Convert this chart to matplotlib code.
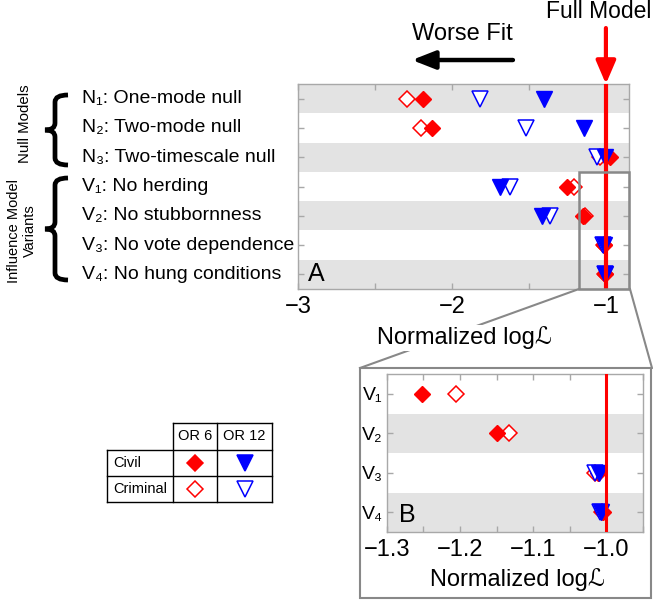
import matplotlib.pyplot as plt
from matplotlib.patches import Rectangle, PathPatch
from matplotlib.path import Path
from matplotlib.lines import Line2D

plt.rcParams['font.family'] = ['Liberation Sans', 'DejaVu Sans']

# model comparison: normalized log-likelihood per model variant
models = ['N₁: One-mode null', 'N₂: Two-mode null', 'N₃: Two-timescale null',
          'V₁: No herding', 'V₂: No stubbornness', 'V₃: No vote dependence',
          'V₄: No hung conditions']
short_names = ['N₁', 'N₂', 'N₃', 'V₁', 'V₂', 'V₃', 'V₄']
civil_or6 = [-2.19, -2.13, -0.975, -1.252, -1.149, -1.012, -1.005]
criminal_or6 = [-2.29, -2.20, -1.04, -1.205, -1.133, -1.015, -1.006]
civil_or12 = [-1.40, -1.143, -1.006, -1.688, -1.418, -1.010, -1.008]
criminal_or12 = [-1.818, -1.52, -1.06, -1.623, -1.36, -1.016, -1.009]
full_model = -1.0

main_ticks = [-3, -2.5, -2, -1.5, -1]
main_ticklabels = ['−3', '', '−2', '', '−1']
zoom_ticks = [-1.3, -1.25, -1.2, -1.15, -1.1, -1.05, -1.0, -0.95]
zoom_ticklabels = ['−1.3', '', '−1.2', '', '−1.1', '', '−1.0', '']
legend_rows = ['Civil', 'Criminal']
legend_cols = ['OR 6', 'OR 12']

W, H = 653, 601
BAND = '#e3e3e3'
FRAME = '#a8a8a8'
BOX = '#888888'


def fx(x):
    return x / W


def fy(y):
    return 1 - y / H


def style_axes(a, labelsize):
    for s in a.spines.values():
        s.set_color(FRAME)
        s.set_linewidth(1.0)
    a.tick_params(which='both', direction='in', top=True, right=True,
                  color=FRAME, length=4, width=1, labelsize=labelsize)


def draw_points(a, rows):
    a.plot(criminal_or6, rows, ls='none', marker='D', ms=7.8, mfc='white',
           mec='red', mew=1.1, zorder=3, clip_on=False)
    a.plot(civil_or6, rows, ls='none', marker='D', ms=7.8, color='red', zorder=4, clip_on=False)
    a.plot(criminal_or12, rows, ls='none', marker='v', ms=11.5, mfc='white',
           mec='blue', mew=1.1, zorder=5, clip_on=False)
    a.plot(civil_or12, rows, ls='none', marker='v', ms=11.5, color='blue', zorder=6, clip_on=False)


def brace(x_tip, x_spine, x_end, y_top, y_bot, lw=3.4):
    ym = (y_top + y_bot) / 2
    r = 7
    pts = [(x_end, y_top), (x_spine, y_top), (x_spine, y_top + r),
           (x_spine, ym - r), (x_spine, ym), (x_tip, ym),
           (x_spine, ym), (x_spine, ym + r),
           (x_spine, y_bot - r), (x_spine, y_bot), (x_end, y_bot)]
    codes = [Path.MOVETO, Path.CURVE3, Path.CURVE3, Path.LINETO,
             Path.CURVE3, Path.CURVE3, Path.CURVE3, Path.CURVE3,
             Path.LINETO, Path.CURVE3, Path.CURVE3]
    path = Path([(fx(x), fy(y)) for x, y in pts], codes)
    fig.add_artist(PathPatch(path, transform=fig.transFigure, fill=False,
                             lw=lw, color='black', capstyle='butt'))


fig = plt.figure(figsize=(W / 100, H / 100), dpi=100)

# panel A: all models
ax = fig.add_axes([fx(298), fy(289), 331 / W, 205 / H])
rows = list(range(len(models)))
for i in rows[::2]:
    ax.axhspan(i - 0.5, i + 0.5, color=BAND, lw=0, zorder=0)
draw_points(ax, rows)
ax.axvline(full_model, color='red', lw=3, zorder=8)
ax.set_xlim(-3, -0.85)
ax.set_ylim(len(models) - 0.5, -0.5)
ax.set_xticks(main_ticks, main_ticklabels)
ax.set_yticks(rows, [])
style_axes(ax, 17)
ax.tick_params(axis='x', pad=5)
for i, name in enumerate(models):
    ax.text(-0.6526, i, name, transform=ax.get_yaxis_transform(),
            ha='left', va='center', fontsize=14)
ax.text(0.03, 0.073, 'A', transform=ax.transAxes, ha='left', va='center', fontsize=18)

# zoom region marker
ax.add_patch(Rectangle((-1.175, 2.5), 0.325, 4.0, fill=False, ec=BOX, lw=1.8,
                       zorder=9, clip_on=False))

# arrows above the panel
ax.annotate('', xy=(full_model, 1.0), xycoords=ax.get_xaxis_transform(),
            xytext=(full_model, 1.273), annotation_clip=False,
            arrowprops=dict(arrowstyle='-|>,head_length=1.4,head_width=0.6',
                            color='red', lw=3, shrinkA=0, shrinkB=0))
fig.text(fx(651), fy(12), 'Full Model', ha='right', va='center', fontsize=16.5)
ax.annotate('', xy=(-2.26, 1.117), xycoords=ax.get_xaxis_transform(),
            xytext=(-1.604, 1.117), annotation_clip=False,
            arrowprops=dict(arrowstyle='-|>,head_length=1.4,head_width=0.55',
                            color='black', lw=3.2, shrinkA=0, shrinkB=0))
ax.text(-1.935, 1.244, 'Worse Fit', transform=ax.get_xaxis_transform(),
        ha='center', va='center', fontsize=17)

# group braces and labels
brace(45, 55, 68, 95, 165)
brace(45, 55, 68, 178, 280)
fig.text(fx(25), fy(124), 'Null Models', rotation=90, ha='center', va='center', fontsize=10.8)
fig.text(fx(22), fy(231), 'Influence Model\nVariants', rotation=90, ha='center',
         va='center', fontsize=10.5, multialignment='center', linespacing=1.1)

# connectors to the zoom panel
fig.add_artist(Line2D([fx(579), fx(360)], [fy(289), fy(368)], color=BOX, lw=1.5))
fig.add_artist(Line2D([fx(630), fx(652)], [fy(289), fy(368)], color=BOX, lw=1.5))
fig.add_artist(Rectangle((fx(360), fy(598)), 291 / W, 230 / H, transform=fig.transFigure,
                         fill=False, ec=BOX, lw=1.5))
fig.text(fx(464), fy(338), 'Normalized logℒ', ha='center', va='center', fontsize=17,
         bbox=dict(fc='white', ec='none', pad=1), zorder=5)

# panel B: influence model variants, zoomed
ax2 = fig.add_axes([fx(386.7), fy(532), 256.3 / W, 158 / H])
for i in rows[::2]:
    ax2.axhspan(i - 0.5, i + 0.5, color=BAND, lw=0, zorder=0)
draw_points(ax2, rows)
ax2.axvline(full_model, color='red', lw=2.2, zorder=8)
ax2.set_xlim(-1.3, -0.95)
ax2.set_ylim(6.5, 2.5)
ax2.set_xticks(zoom_ticks, zoom_ticklabels)
ax2.set_yticks(rows[3:], short_names[3:])
style_axes(ax2, 17)
ax2.tick_params(axis='y', labelsize=14, pad=3)
ax2.tick_params(axis='x', pad=5)
for c in ax2.lines[:4]:
    c.set_clip_on(True)
ax2.text(0.048, 0.108, 'B', transform=ax2.transAxes, ha='left', va='center', fontsize=18)
fig.text(fx(517), fy(580), 'Normalized logℒ', ha='center', va='center', fontsize=17)

# marker key table
lg = fig.add_axes([fx(107), fy(502), 165 / W, 79 / H])
lg.set_xlim(0, 165)
lg.set_ylim(79, 0)
lg.axis('off')
col_edges = [0, 66, 110, 165]
row_edges = [0, 27, 53, 79]
kw = dict(color='black', lw=1.0, clip_on=False)
lg.plot([col_edges[1], col_edges[3]], [row_edges[0]] * 2, **kw)
for y in row_edges[1:]:
    lg.plot([col_edges[0], col_edges[3]], [y, y], **kw)
lg.plot([col_edges[0]] * 2, [row_edges[1], row_edges[3]], **kw)
for x in col_edges[1:]:
    lg.plot([x, x], [row_edges[0], row_edges[3]], **kw)
for j, lab in enumerate(legend_cols):
    lg.text((col_edges[j + 1] + col_edges[j + 2]) / 2, (row_edges[0] + row_edges[1]) / 2,
            lab, ha='center', va='center', fontsize=10.5)
for i, lab in enumerate(legend_rows):
    yc = (row_edges[i + 1] + row_edges[i + 2]) / 2
    lg.text(6, yc, lab, ha='left', va='center', fontsize=10.5)
    filled = i == 0
    x6 = (col_edges[1] + col_edges[2]) / 2
    x12 = (col_edges[2] + col_edges[3]) / 2
    lg.plot(x6, yc, marker='D', ms=7.8, mfc='red' if filled else 'white', mec='red',
            mew=1.1, clip_on=False)
    lg.plot(x12, yc, marker='v', ms=11.5, mfc='blue' if filled else 'white', mec='blue',
            mew=1.1, clip_on=False)

fig.savefig('out.png', dpi=100)
